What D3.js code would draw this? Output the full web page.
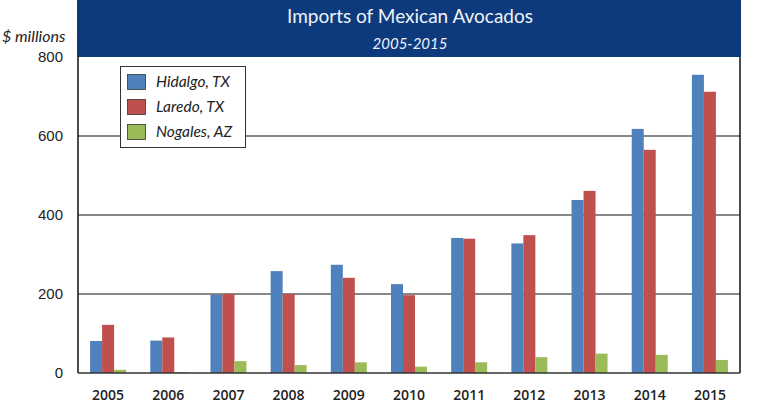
<!DOCTYPE html>
<html><head><meta charset="utf-8">
<script src="https://cdn.jsdelivr.net/npm/d3@7"></script>
<style>body{margin:0;background:#fff}svg{display:block}</style>
</head><body>
<script>
const years = ["2005","2006","2007","2008","2009","2010","2011","2012","2013","2014","2015"];
const seriesNames = ["Hidalgo, TX","Laredo, TX","Nogales, AZ"];
const hidalgo = [81, 82, 198, 258, 274, 225, 342, 328, 438, 618, 755];
const laredo  = [122, 90, 200, 200, 241, 197, 340, 349, 461, 565, 712];
const nogales = [8, 2, 30, 20, 27, 16, 27, 40, 49, 46, 33];
const yTicks = [0, 200, 400, 600, 800];
const colors = ["#4f81bd","#c0504d","#9bbb59"];
const seriesValues = [hidalgo, laredo, nogales];

const W = 760, H = 410;
const svg = d3.select("body").append("svg").attr("width", W).attr("height", H);
const pLeft = 78, pRight = 740, pTop = 57, pBottom = 373;

const x = d3.scaleBand().domain(years).range([pLeft, pRight]);
const xs = d3.scaleBand().domain(seriesNames).range([0, 36]);
const y = d3.scaleLinear().domain([0, 800]).range([pBottom, pTop]);

// banner
svg.append("rect").attr("x", 77).attr("y", 0).attr("width", 664).attr("height", pTop).attr("fill", "#0d3a7c");
svg.append("text").attr("x", 410).attr("y", 23).attr("text-anchor", "middle")
  .attr("fill", "#eef3fa").style("font-family", "Lato, sans-serif").style("font-size", "19px")
  .text("Imports of Mexican Avocados");
svg.append("text").attr("x", 410).attr("y", 49).attr("text-anchor", "middle")
  .attr("fill", "#eef3fa").style("font-family", "Lato, sans-serif").style("font-style", "italic").style("font-size", "15px")
  .text("2005-2015");

svg.append("text").attr("x", 2).attr("y", 42).attr("fill", "#222")
  .style("font-family", "Lato, sans-serif").style("font-style", "italic").style("font-size", "16px")
  .text("$ millions");

// grid lines
svg.append("g").selectAll("line").data(yTicks.filter(d => d > 0 && d < 800)).join("line")
  .attr("x1", pLeft).attr("x2", pRight).attr("y1", d => y(d)).attr("y2", d => y(d))
  .attr("stroke", "#111").attr("stroke-width", 1);

// y tick labels
svg.append("g").selectAll("text").data(yTicks).join("text")
  .attr("x", 63).attr("y", d => y(d) + 5).attr("text-anchor", "end")
  .attr("fill", "#222").style("font-family", "'Liberation Sans', Arial, sans-serif").style("font-size", "15px")
  .text(d => d);

// bars
seriesNames.forEach((s, i) => {
  svg.append("g").selectAll("rect").data(seriesValues[i]).join("rect")
    .attr("x", (d, j) => x(years[j]) + (x.bandwidth() - 36) / 2 + xs(s))
    .attr("width", xs.bandwidth())
    .attr("y", d => y(d))
    .attr("height", d => y(0) - y(d))
    .attr("fill", colors[i]);
});

// axes frame
svg.append("line").attr("x1", pLeft).attr("x2", pLeft).attr("y1", pTop).attr("y2", pBottom).attr("stroke", "#111").attr("stroke-width", 1.5);
svg.append("line").attr("x1", pRight).attr("x2", pRight).attr("y1", pTop).attr("y2", pBottom).attr("stroke", "#111").attr("stroke-width", 1.5);
svg.append("line").attr("x1", pLeft).attr("x2", pRight).attr("y1", pBottom).attr("y2", pBottom).attr("stroke", "#333").attr("stroke-width", 1.5);

// x labels
svg.append("g").selectAll("text").data(years).join("text")
  .attr("x", d => x(d) + x.bandwidth() / 2).attr("y", 400).attr("text-anchor", "middle")
  .attr("fill", "#222").style("font-family", "'Open Sans', sans-serif").style("font-size", "14px").style("font-weight", "600")
  .text(d => d);

// legend
const lg = svg.append("g");
lg.append("rect").attr("x", 120.5).attr("y", 66.5).attr("width", 125).attr("height", 81)
  .attr("fill", "#fff").attr("stroke", "#333").attr("stroke-width", 1);
seriesNames.forEach((s, i) => {
  const cy = 82 + i * 25;
  lg.append("rect").attr("x", 127.5).attr("y", cy - 7.5).attr("width", 18).attr("height", 15)
    .attr("fill", colors[i]).attr("stroke", "#333").attr("stroke-width", 0.8);
  lg.append("text").attr("x", 156).attr("y", cy + 5).attr("fill", "#222")
    .style("font-family", "Lato, sans-serif").style("font-style", "italic").style("font-size", "15.5px")
    .text(s);
});
</script>
</body></html>
